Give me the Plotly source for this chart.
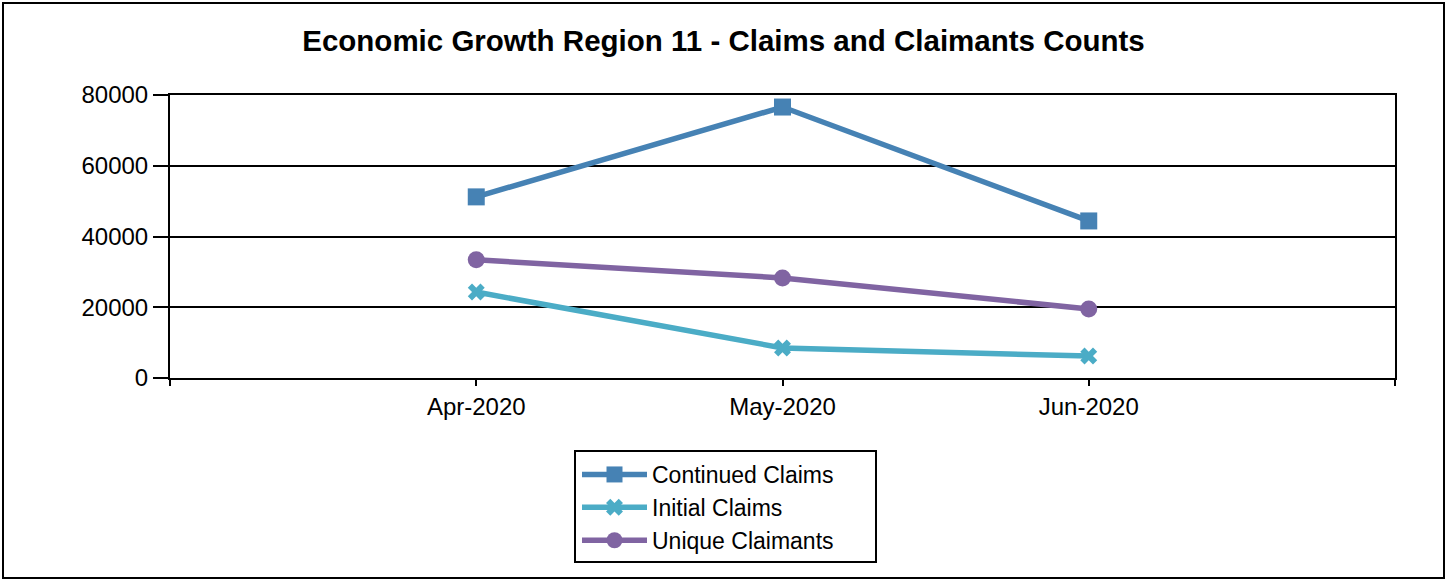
import plotly.graph_objects as go

months = ["Apr-2020", "May-2020", "Jun-2020"]
continued_claims = [51200, 76600, 44400]
initial_claims = [24300, 8500, 6200]
unique_claimants = [33400, 28300, 19500]
y_ticks = [0, 20000, 40000, 60000, 80000]

FONT = "Liberation Sans, Arial, sans-serif"
xi = list(range(len(months)))

fig = go.Figure()
fig.add_trace(go.Scatter(x=xi, y=continued_claims, name="Continued Claims", mode="lines+markers",
                         line=dict(color="#4682B4", width=5.5),
                         marker=dict(symbol="square", size=17, color="#4682B4")))
fig.add_trace(go.Scatter(x=xi, y=initial_claims, name="Initial Claims", mode="lines+markers",
                         line=dict(color="#4BACC6", width=5.5),
                         marker=dict(symbol="x", size=15, color="#4BACC6")))
fig.add_trace(go.Scatter(x=xi, y=unique_claimants, name="Unique Claimants", mode="lines+markers",
                         line=dict(color="#8064A2", width=5.5),
                         marker=dict(symbol="circle", size=17, color="#8064A2")))

L, R, T, B = 170, 52, 95, 202
W, H = 1447, 580
pw, ph = W - L - R, H - T - B

def px(x):
    return (x - L) / pw

def py(y):
    return (H - B - y) / ph

fig.update_layout(
    width=W, height=H,
    margin=dict(l=L, r=R, t=T, b=B),
    paper_bgcolor="white", plot_bgcolor="white",
    font=dict(family=FONT, size=24, color="black"),
    title=dict(text="<b>Economic Growth Region 11 - Claims and Claimants Counts</b>",
               x=0.5, xanchor="center", y=1 - 41 / H, yanchor="middle",
               font=dict(family=FONT, size=29.5, color="black")),
    showlegend=True,
    legend=dict(x=px(577), y=py(453), xanchor="left", yanchor="top",
                borderwidth=0, bgcolor="rgba(0,0,0,0)",
                font=dict(family=FONT, size=23, color="black"),
                itemwidth=65, tracegroupgap=0),
    xaxis=dict(range=[-1, len(months)], tickmode="array",
               tickvals=[-1] + xi + [len(months)], ticktext=[""] + months + [""],
               showgrid=False, zeroline=False, showline=True, linecolor="black", linewidth=2,
               mirror=True, ticks="outside", ticklen=6, tickwidth=2, tickcolor="black"),
    yaxis=dict(range=[0, 80000], tickmode="array", tickvals=y_ticks,
               ticktext=[str(v) for v in y_ticks],
               showgrid=True, gridcolor="black", gridwidth=2, zeroline=False,
               showline=True, linecolor="black", linewidth=2, mirror=True,
               ticks="outside", ticklen=15, tickwidth=2, tickcolor="black"),
    shapes=[
        dict(type="rect", xref="paper", yref="paper",
             x0=px(3), x1=px(1444), y0=py(578), y1=py(3),
             line=dict(color="black", width=2), fillcolor="rgba(0,0,0,0)", layer="below"),
        dict(type="rect", xref="paper", yref="paper",
             x0=px(575), x1=px(876), y0=py(562), y1=py(451),
             line=dict(color="black", width=2), fillcolor="white", layer="below"),
    ],
)

fig.write_html("out.html", config={"displayModeBar": False},
               post_script="document.body.style.margin='0';document.documentElement.style.overflow='hidden';")
